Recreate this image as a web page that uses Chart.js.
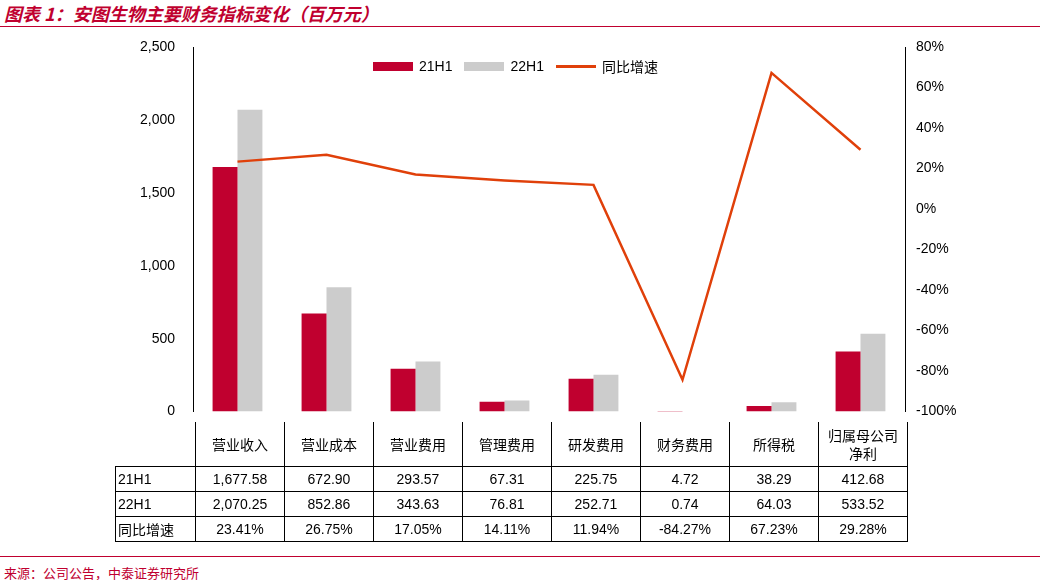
<!DOCTYPE html><html><head><meta charset="utf-8">
<script src="https://cdn.jsdelivr.net/npm/chart.js@4"></script>
<style>
body{margin:0;width:1053px;height:580px;position:relative;font-family:"Liberation Sans",Arial,"Noto Sans CJK SC",sans-serif;background:#fff;overflow:hidden}
#title{position:absolute;left:4px;top:0;font-size:18px;font-style:italic;font-weight:bold;color:#C0002F;font-family:"Noto Sans CJK SC",sans-serif}
.hr{position:absolute;left:0;width:1040px;height:1px;background:#C0002F}
#src{position:absolute;left:4px;top:563px;font-size:13px;color:#C0002F;font-family:"Noto Sans CJK SC",serif}
#cw{position:absolute;left:0;top:0;width:1053px;height:430px}
table{position:absolute;left:115px;top:422px;border-collapse:collapse;font-size:14px;color:#000}
td{border:1px solid #000;text-align:center;padding:0;width:88px;height:24px;font-family:"Liberation Sans",Arial,"Noto Sans CJK SC",sans-serif}
td.l{width:77px;text-align:left;padding-left:2px}
tr.h td{height:44px;border-top:none;font-family:"Noto Sans CJK SC",sans-serif;line-height:18px}
tr.h td.l{border:none;border-bottom:1px solid #000}
#leg{position:absolute;top:56px;left:373px;font-size:14px;display:flex;gap:12px;align-items:center}
#leg span{display:inline-flex;align-items:center;gap:6px}
</style></head><body>
<div id="title">图表 1：安图生物主要财务指标变化（百万元）</div>
<div class="hr" style="top:26px"></div>
<div id="cw"><canvas id="c"></canvas></div>
<div id="leg"><span><i style="display:inline-block;width:40px;height:9px;background:#C0002F"></i>21H1</span><span><i style="display:inline-block;width:40px;height:9px;background:#CCCCCC"></i>22H1</span><span><i style="display:inline-block;width:40px;height:3px;background:#E0400A"></i><b style="font-weight:normal;font-family:'Noto Sans CJK SC'">同比增速</b></span></div>
<table id="t"></table>
<div class="hr" style="top:556px"></div>
<div id="src">来源：公司公告，中泰证券研究所</div>
<script>
const categories=["营业收入","营业成本","营业费用","管理费用","研发费用","财务费用","所得税","归属母公司<br>净利"];
const h21=[1677.58,672.90,293.57,67.31,225.75,4.72,38.29,412.68];
const h22=[2070.25,852.86,343.63,76.81,252.71,0.74,64.03,533.52];
const yoy=[23.41,26.75,17.05,14.11,11.94,-84.27,67.23,29.28];
const fmt=v=>v.toLocaleString('en-US',{minimumFractionDigits:2,maximumFractionDigits:2});
let html='<tr class="h"><td class="l"></td>'+categories.map(c=>'<td>'+c+'</td>').join('')+'</tr>';
html+='<tr><td class="l">21H1</td>'+h21.map(v=>'<td>'+fmt(v)+'</td>').join('')+'</tr>';
html+='<tr><td class="l">22H1</td>'+h22.map(v=>'<td>'+fmt(v)+'</td>').join('')+'</tr>';
html+='<tr><td class="l" style="font-family:\'Noto Sans CJK SC\'">同比增速</td>'+yoy.map(v=>'<td>'+v.toFixed(2)+'%</td>').join('')+'</tr>';
document.getElementById('t').innerHTML=html;
new Chart(document.getElementById('c'),{
 data:{labels:categories.map(c=>c.replace('<br>','')),datasets:[
  {type:'line',label:'同比增速',data:yoy,yAxisID:'y1',borderColor:'#E0400A',borderWidth:2.5,pointRadius:0,tension:0},
  {type:'bar',label:'21H1',data:h21,backgroundColor:'#C0002F',categoryPercentage:0.56,barPercentage:1},
  {type:'bar',label:'22H1',data:h22,backgroundColor:'#CCCCCC',categoryPercentage:0.56,barPercentage:1}]},
 options:{responsive:true,maintainAspectRatio:false,animation:false,
  layout:{padding:{top:47,bottom:8,left:0,right:0}},
  plugins:{legend:{display:false},tooltip:{enabled:false}},
  scales:{
   x:{display:false,grid:{display:false}},
   y:{min:0,max:2500,ticks:{stepSize:500,color:'#000',font:{size:14},padding:10},grid:{display:false,drawTicks:true},border:{color:'#000'},afterFit:s=>{s.width=193}},
   y1:{position:'right',min:-100,max:80,ticks:{stepSize:20,color:'#000',font:{size:14},callback:v=>v+'%'},grid:{display:false},border:{color:'#000'},afterFit:s=>{s.width=148}}
  }}
});
</script></body></html>
